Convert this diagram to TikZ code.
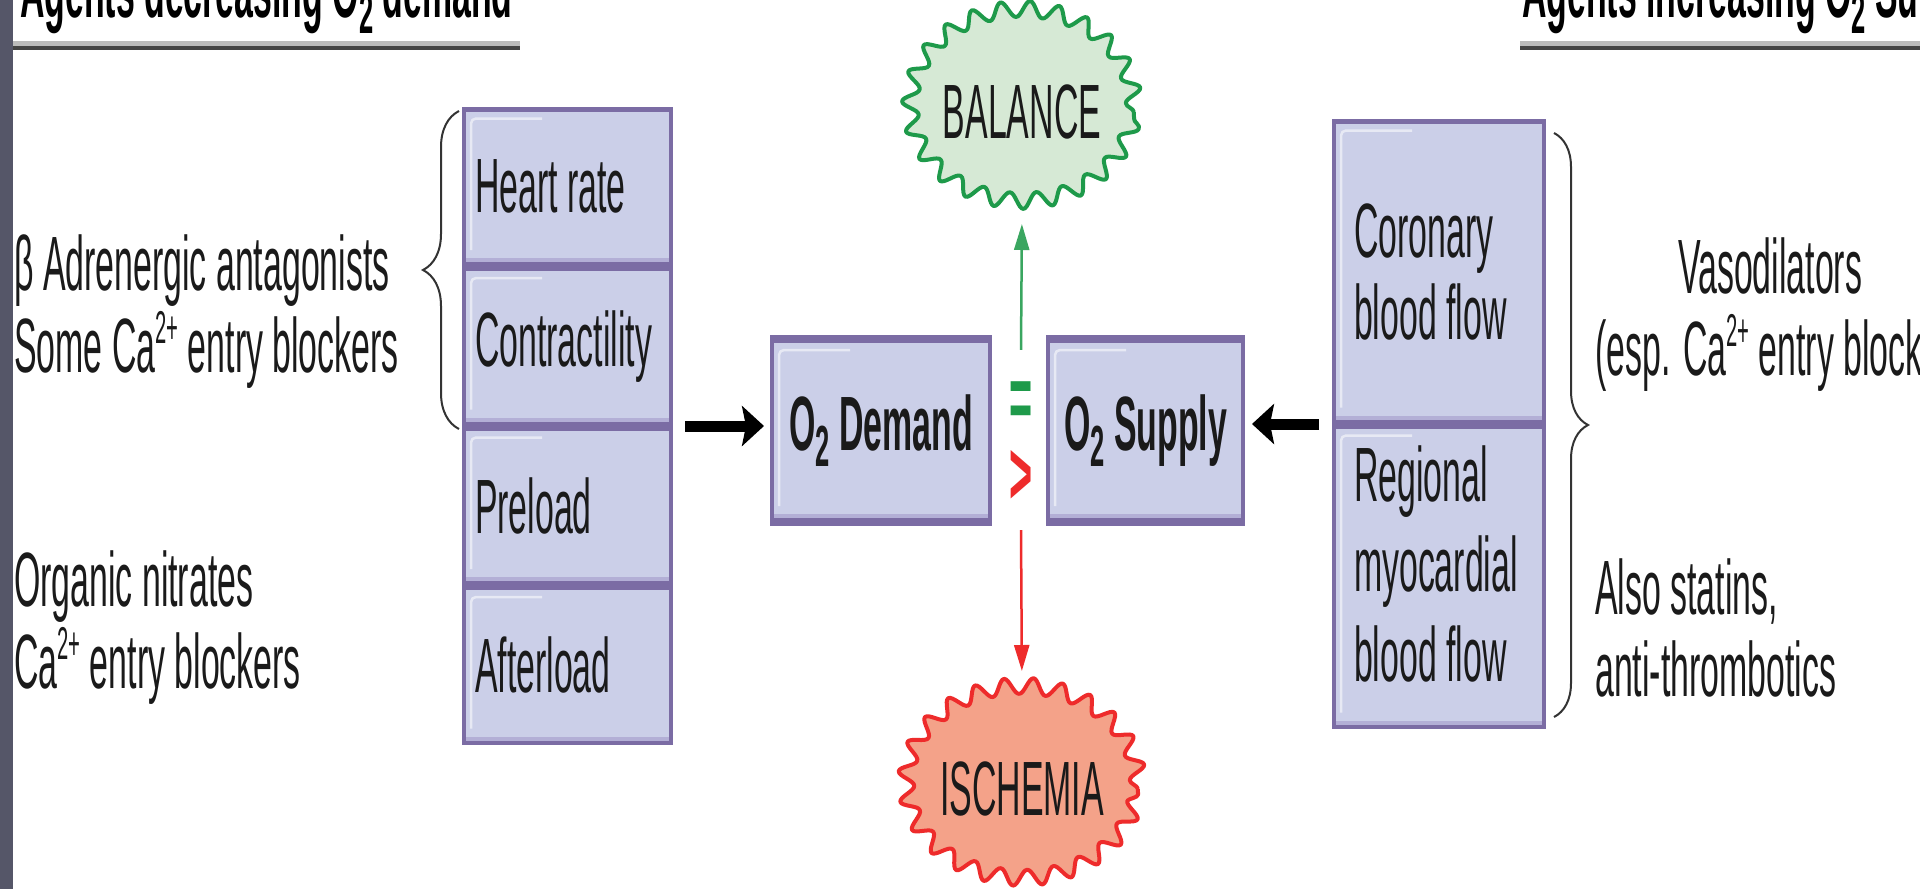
\documentclass[tikz,border=0pt]{standalone}
\usepackage{fontspec}
\setmainfont{Liberation Sans}[FakeStretch=0.44]
\usetikzlibrary{calc}
\usetikzlibrary{shapes,arrows.meta,positioning}
\usetikzlibrary{decorations.pathmorphing,decorations.pathreplacing}

\definecolor{boxfill}{HTML}{CBCFE8}
\definecolor{boxedge}{HTML}{7B6CA4}
\definecolor{boxshade}{HTML}{B3AFD6}
\definecolor{stripgray}{HTML}{555668}
\definecolor{balline}{HTML}{1E9A4A}
\definecolor{balarrow}{HTML}{3AA660}
\definecolor{balfill}{HTML}{D6E9D5}
\definecolor{ischline}{HTML}{EE2B2B}
\definecolor{ischfill}{HTML}{F4A289}
\definecolor{rulelight}{HTML}{BBBBBB}
\definecolor{ruledark}{HTML}{444444}
\definecolor{inktext}{HTML}{1A1A1A}

\newcommand{\diagfont}{\fontsize{77}{82}\selectfont}
\newcommand{\signfont}{\fontsize{90}{90}\selectfont\bfseries}
\newcommand{\upidx}[1]{\raisebox{0.38em}{\fontsize{46}{46}\selectfont #1}}
\newcommand{\downidx}[1]{\raisebox{-0.21em}{\fontsize{58}{58}\selectfont #1}}

\tikzset{
  pbox/.style={rectangle, fill=boxfill, inner sep=0pt, outer sep=0pt, text=inktext,
    path picture={
      \fill[boxshade] ([yshift=#1,yshift=4pt]path picture bounding box.south west) rectangle (path picture bounding box.south east);
      \fill[boxedge] ([yshift=#1]path picture bounding box.south west) rectangle (path picture bounding box.south east);
      \fill[boxedge] (path picture bounding box.north west) rectangle ([yshift=-#1]path picture bounding box.north east);
      \fill[boxedge] (path picture bounding box.north west) rectangle ([xshift=4pt]path picture bounding box.south west);
      \fill[boxedge] ([xshift=-4pt]path picture bounding box.north east) rectangle (path picture bounding box.south east);
      \draw[white, opacity=0.55, line width=2.5pt, rounded corners=5pt]
        ([xshift=9pt,yshift=#1,yshift=12pt]path picture bounding box.south west)
        -- ([xshift=9pt,yshift=-#1,yshift=-7pt]path picture bounding box.north west)
        -- ([xshift=80pt,yshift=-#1,yshift=-7pt]path picture bounding box.north west);
    }},
  pbox/.default=8pt,
  cellbox/.style={pbox=4.5pt, minimum height=159.5pt, text width=185pt, inner xsep=13pt, align=flush left},
  mainbox/.style={pbox, minimum height=191pt, align=center, font=\diagfont\bfseries},
  headtext/.style={anchor=base west, inner sep=0pt, font=\diagfont\bfseries, text=black},
  sidetext/.style={anchor=west, inner sep=0pt, align=left, text=inktext},
  burstbox/.style={ellipse, inner sep=0pt, minimum width=218pt, minimum height=192pt,
    line width=4pt, line join=round, text=inktext,
    decorate, decoration={snake, segment length=28pt, amplitude=8pt}},
  bigarrow/.style={line width=11pt, -{Stealth[length=22pt,width=40pt,inset=4pt]}},
  thinarrow/.style={line width=2.5pt, -{Triangle[length=26pt,width=15pt]}},
  bracedeco/.style={decorate, decoration={brace, amplitude=#1}, line width=2pt, draw=black!80}
}

\begin{document}
\begin{tikzpicture}[x=1pt,y=-1pt,font=\diagfont]
  \useasboundingbox (0,0) rectangle (1920,889);
  \clip (0,0) rectangle (1920,889);
  \fill[white] (0,0) rectangle (1920,889);
  \fill[stripgray] (0,0) rectangle (13,889);

  % headings
  \node[headtext] (headdec) at (20,17) {Agents decreasing O\downidx{2} demand};
  \node[headtext] (headinc) at (1522,17) {Agents increasing O\downidx{2} Supply};
  \fill[rulelight] (13,41) rectangle (520,46);
  \fill[ruledark] (13,46) rectangle (520,50);
  \fill[rulelight] (1520,41) rectangle (1920,46);
  \fill[ruledark] (1520,46) rectangle (1920,50);

  % determinants of demand
  \node[cellbox] (heart) at (567.5,186.75) {Heart rate};
  \node[cellbox,below=0pt of heart] (contract) {Contractility};
  \node[cellbox,below=0pt of contract] (preload) {Preload};
  \node[cellbox,below=0pt of preload] (afterload) {Afterload};
  \fill[boxedge] (heart.north west) rectangle ([yshift=-4pt]heart.north east);
  \fill[boxedge] (afterload.south west) rectangle ([yshift=4pt]afterload.south east);

  % determinants of supply
  \node[cellbox,text width=170pt,inner xsep=22pt,minimum height=305pt] (coronary) at (1439,271.5) {Coronary\\blood flow};
  \node[cellbox,text width=170pt,inner xsep=22pt,minimum height=305pt,below=0pt of coronary,
        font=\fontsize{77}{90}\selectfont] (regional) {Regional\\myocardial\\blood flow\par\vspace*{26pt}};
  \fill[boxedge] (coronary.north west) rectangle ([yshift=-4pt]coronary.north east);
  \fill[boxedge] (regional.south west) rectangle ([yshift=4pt]regional.south east);

  \node[mainbox,minimum width=222pt] (demand) at (881,430.5) {O\downidx{2} Demand};
  \node[mainbox,minimum width=199pt] (supply) at (1145.5,430.5) {O\downidx{2} Supply};

  % comparison signs
  \node[anchor=base, inner sep=0pt, text height=78pt, text depth=0pt, font=\signfont, text=balline] (eq) at (1021,428) {=};
  \node[anchor=base, inner sep=0pt, text height=44pt, text depth=26pt, font=\signfont, text=ischline] (gt) at (1021,504) {>};

  \node[burstbox, draw=balline, fill=balfill] (balance) at (1022,112) {BALANCE};
  \node[burstbox, draw=ischline, fill=ischfill] (ischemia) at (1022,789) {ISCHEMIA};

  % drug classes
  \node[sidetext] (betatxt) at (14,312) {β Adrenergic antagonists\\Some Ca\upidx{2+} entry blockers};
  \node[sidetext] (nitratetxt) at (14,628) {Organic nitrates\\Ca\upidx{2+} entry blockers};
  \node[sidetext, align=center] (vasotxt) at (1595,315) {Vasodilators\hspace*{36pt}\\(esp. Ca\upidx{2+} entry blockers)};
  \node[sidetext] (statintxt) at (1595,628) {Also statins,\\anti-thrombotics};

  \draw[bracedeco=36pt] ($(contract.south west)+(-3,3)$) -- ($(heart.north west)+(-3,4)$);
  \draw[bracedeco=34pt] ($(coronary.north east)+(8,14)$) -- ($(regional.south east)+(8,-12)$);

  % arrows
  \draw[bigarrow, shorten <=12pt, shorten >=6pt] (contract.south east) -- (contract.south east -| demand.west);
  \draw[bigarrow, shorten <=13pt, shorten >=7pt] (coronary.south west) -- (coronary.south west -| supply.east);
  \draw[thinarrow, draw=balarrow, fill=balline, shorten >=14pt] (eq.north) -- (balance.south);
  \draw[thinarrow, draw=ischline, fill=ischline, shorten >=20pt] (gt.south) -- (ischemia.north);
\end{tikzpicture}
\end{document}
